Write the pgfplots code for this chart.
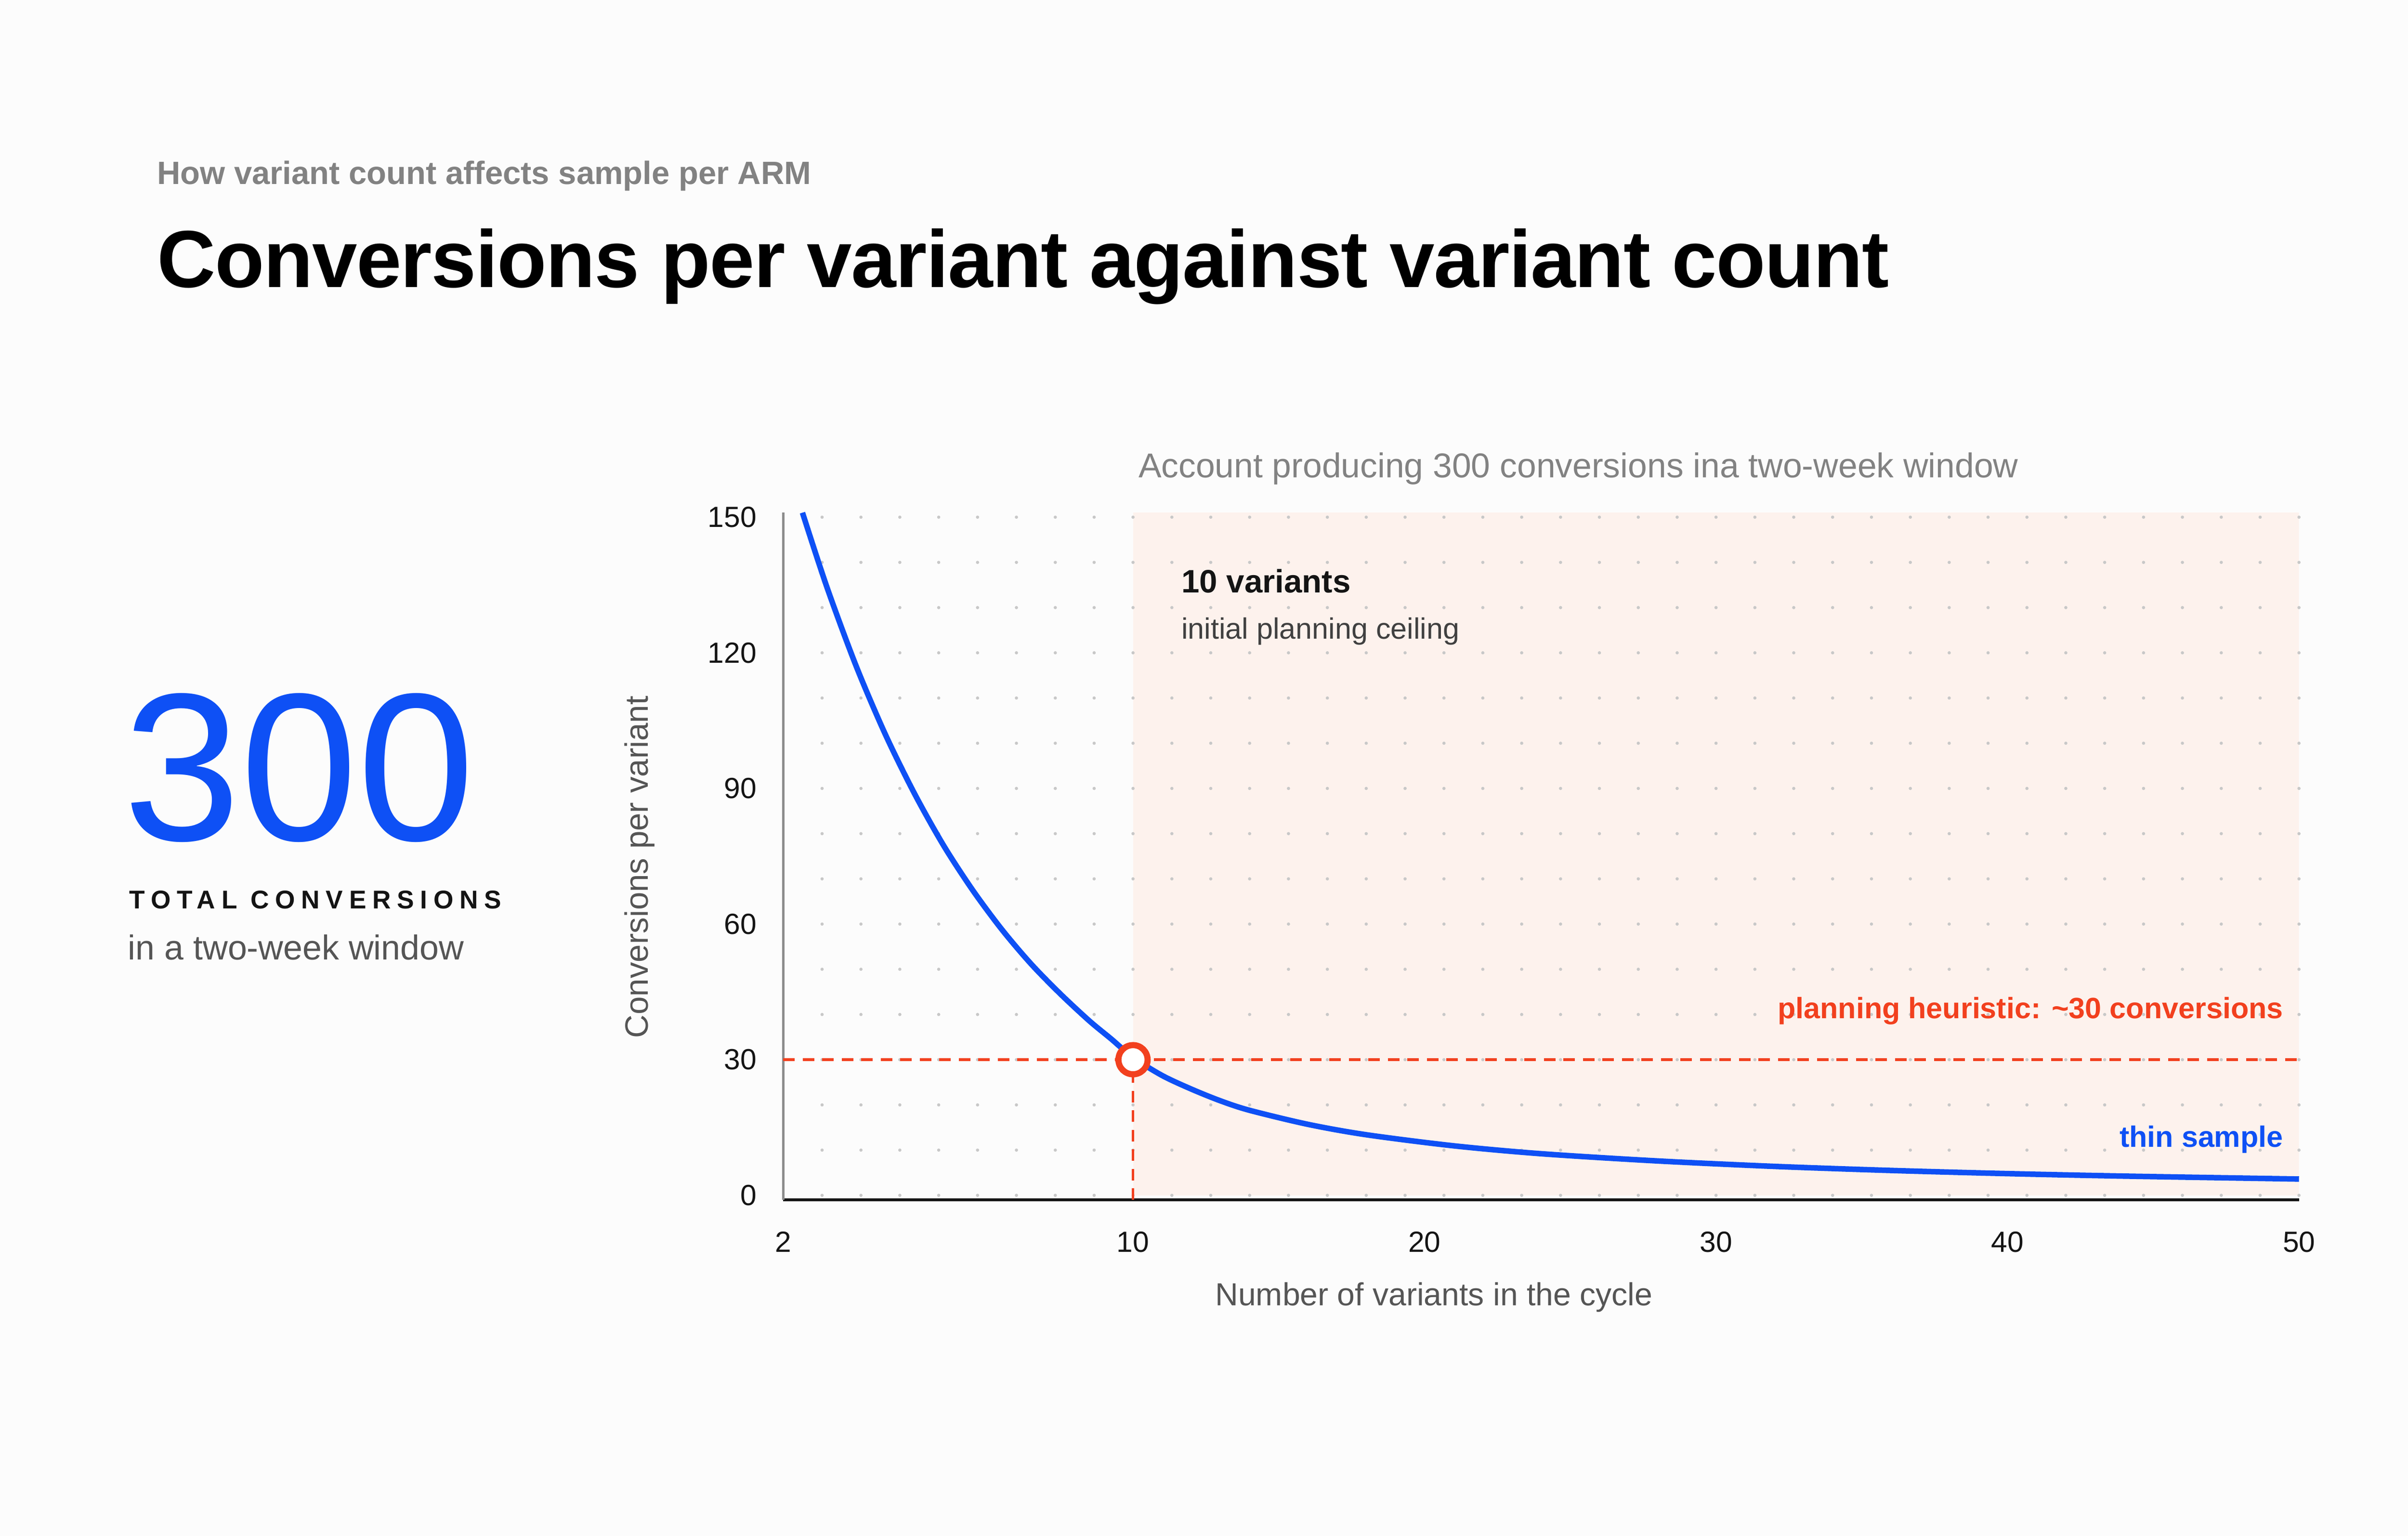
\documentclass[border=0pt]{standalone}
\usepackage{fontspec}
\setmainfont{Liberation Sans}
\newfontfamily\trackfont{Liberation Sans}[LetterSpace=24]
\newfontfamily\titlefont{Liberation Sans}[LetterSpace=-1]
\usepackage{pgfplots}
\usepackage{pgfplotstable}
\pgfplotsset{compat=1.18}

\definecolor{bg}{RGB}{252,252,252}
\definecolor{peach}{RGB}{253,242,237}
\definecolor{cblue}{RGB}{14,80,245}
\definecolor{cred}{RGB}{242,64,30}
\definecolor{dotgray}{RGB}{200,200,200}
\definecolor{txtgray}{RGB}{130,130,130}
\definecolor{labgray}{RGB}{85,85,85}
\definecolor{ink}{RGB}{20,20,20}

% curve; x is the position on the (uneven) axis:
% 0 = 2 variants, 12 = 10 variants, then one unit per variant up to 52 = 50
\pgfplotstableread{
u      v
0.66   151
1.5    134.5
2.5    117.1
3.5    102.0
4.5    88.9
5.5    77.4
6.5    67.5
7.5    58.8
8.5    51.2
9.5    44.6
10.5   38.6
11.25  34.6
12.0   30.5
13.0   26.5
14.0   23.5
15.0   20.9
16.0   18.8
18.0   15.7
20.0   13.4
23.0   10.95
26.0   9.2
30.0   7.6
34.0   6.4
38.0   5.5
42.0   4.8
46.0   4.25
52.0   3.6
}\curvedata

\pgfplotsset{
  panel/.style={
    at={(102mm,43.76mm)}, anchor=south west,
    scale only axis,
    width=197.4mm, height=89.48mm,
    xmin=0, xmax=52, ymin=-1, ymax=151,
  },
}

\begin{document}
\begin{tikzpicture}
\fill[bg] (0,0) rectangle (313.6mm,200mm);

% shaded region right of the 10-variant ceiling, under the dot grid
\begin{axis}[panel, hide axis]
  \addplot[draw=none, fill=peach] coordinates {(12,151) (52,151)} \closedcycle;
\end{axis}

\begin{axis}[
  panel,
  axis x line*=bottom, axis y line*=left,
  x axis line style={-, draw=ink, line width=0.4mm},
  y axis line style={-, draw=black!45, line width=0.28mm},
  xtick={0,12,22,32,42,52},
  xticklabels={2,10,20,30,40,50},
  ytick={0,30,60,90,120,150},
  minor xtick={1.33333,2.66667,...,52.1},
  major tick length=0pt, minor tick length=0pt,
  xminorgrids=true,
  minor grid style={draw=dotgray, line width=0.42mm, line cap=round,
    dash pattern=on 0pt off 5.887mm, dash phase=5.298mm},
  /pgf/number format/assume math mode=true,
  tick label style={font=\fontsize{10.8}{13}\selectfont, text=ink, inner sep=0pt},
  xticklabel style={anchor=base, yshift=-6.8mm},
  yticklabel style={anchor=east, xshift=-3.4mm},
  clip=false,
]
  % planning heuristic lines
  \addplot[cred, line width=0.36mm, dash pattern=on 1.5mm off 1.04mm]
    coordinates {(0,30) (52,30)};
  \addplot[cred, line width=0.32mm, dash pattern=on 1.5mm off 1.04mm]
    coordinates {(12,-1) (12,30)};
  % conversions per variant
  \addplot[cblue, line width=0.72mm, smooth] table[x=u, y=v] {\curvedata};
  % ceiling marker
  \addplot[only marks, mark=*, mark size=1.9mm,
    mark options={fill=white, draw=cred, line width=0.8mm}]
    coordinates {(12,30)};
\end{axis}

\begin{scope}[x=0.2mm, y=-0.2mm, yshift=200mm]
  \node[anchor=base west, inner sep=0, text=txtgray,
    font=\fontsize{11.95}{14}\selectfont\bfseries] at (102,120)
    {How variant count affects sample per ARM};
  \node[anchor=base west, inner sep=0, text=black,
    font=\fontsize{30}{36}\titlefont\bfseries] at (102,187)
    {Conversions per variant against variant count};
  \node[anchor=base west, inner sep=0, text=txtgray,
    font=\fontsize{12.75}{15}\selectfont] at (741,311)
    {Account producing 300 conversions ina two-week window};

  \node[anchor=base west, inner sep=0, text=cblue,
    font=\fontsize{78}{90}\selectfont] at (80,547) {300};
  \node[anchor=base west, inner sep=0, text=ink,
    font=\fontsize{9.5}{12}\trackfont\bfseries] at (84,591.6) {TOTAL CONVERSIONS};
  \node[anchor=base west, inner sep=0, text=labgray,
    font=\fontsize{12.8}{15}\selectfont] at (83,625) {in a two-week window};

  \node[anchor=base west, inner sep=0, text=ink,
    font=\fontsize{12}{14}\selectfont\bfseries] at (769,386) {10 variants};
  \node[anchor=base west, inner sep=0, text=black!75,
    font=\fontsize{10.9}{13}\selectfont] at (769,416) {initial planning ceiling};
  \node[anchor=base east, inner sep=0, text=cred,
    font=\fontsize{10.9}{13}\selectfont\bfseries] at (1487,663)
    {planning heuristic: \textasciitilde30 conversions};
  \node[anchor=base east, inner sep=0, text=cblue,
    font=\fontsize{10.9}{13}\selectfont\bfseries] at (1487,747) {thin sample};

  \node[anchor=base, inner sep=0, text=labgray,
    font=\fontsize{11.8}{14}\selectfont] at (933.7,850)
    {Number of variants in the cycle};
  \node[anchor=base, rotate=90, inner sep=0, text=labgray,
    font=\fontsize{12}{14}\selectfont] at (422,564.5)
    {Conversions per variant};
\end{scope}

\pgfresetboundingbox
\path (0,0) rectangle (313.6mm,200mm);
\end{tikzpicture}
\end{document}
